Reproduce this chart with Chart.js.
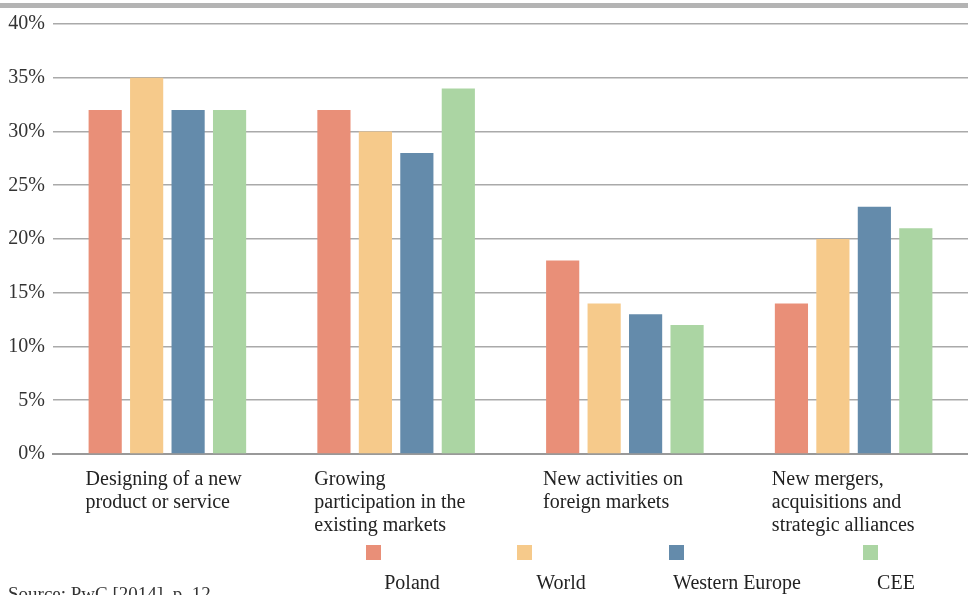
<!DOCTYPE html>
<html lang="en">
<head>
    <meta charset="UTF-8">
    <title>Innovation directions</title>
    <script src="https://cdn.jsdelivr.net/npm/chart.js"></script>
    <style>
        body { margin: 0; background: #fff; font-family: "Liberation Serif", serif; }
        #wrap { position: relative; width: 968px; height: 595px; overflow: hidden; }
        #topline { position: absolute; left: 0; top: 3px; width: 968px; height: 5px; background: #b4b4b4; }
        #source { position: absolute; left: 8px; top: 583px; font-size: 19px; color: #333; white-space: nowrap; }
        .leg-box { position: absolute; width: 15px; height: 15px; top: 545px; }
        .leg-label { position: absolute; top: 571px; font-size: 20px; color: #222; transform: translateX(-50%); white-space: nowrap; }
    </style>
</head>
<body>
<div id="wrap">
    <canvas id="grafico" width="968" height="595"></canvas>
    <div id="topline"></div>
    <div id="source">Source: PwC [2014], p. 12</div>
</div>

<script>
    const categorias = [
        ["Designing of a new", "product or service"],
        ["Growing", "participation in the", "existing markets"],
        ["New activities on", "foreign markets"],
        ["New mergers,", "acquisitions and", "strategic alliances"]
    ];
    const poland = [32, 32, 18, 14];
    const world = [35, 30, 14, 20];
    const westernEurope = [32, 28, 13, 23];
    const cee = [32, 34, 12, 21];

    const series = [
        { label: "Poland", data: poland, color: "#e98f78" },
        { label: "World", data: world, color: "#f6ca8b" },
        { label: "Western Europe", data: westernEurope, color: "#648bab" },
        { label: "CEE", data: cee, color: "#abd5a3" }
    ];

    // legend positions: box left x, label center x
    const leyenda = [[366, 412], [517, 561], [669, 737], [863, 896]];

    // category labels drawn left-aligned at the first bar of each group
    const etiquetasPlugin = {
        id: "etiquetas",
        afterDraw(chart) {
            const ctx = chart.ctx;
            const meta = chart.getDatasetMeta(0);
            ctx.save();
            ctx.font = '20px "Liberation Serif", serif';
            ctx.fillStyle = "#222";
            ctx.textAlign = "left";
            ctx.textBaseline = "alphabetic";
            meta.data.forEach((bar, i) => {
                const left = bar.x - bar.width / 2 - 3;
                categorias[i].forEach((line, j) => {
                    ctx.fillText(line, left, chart.chartArea.bottom + 31 + j * 23);
                });
            });
            ctx.restore();
        }
    };

    new Chart(document.getElementById("grafico"), {
        type: "bar",
        data: {
            labels: categorias,
            datasets: series.map(s => ({
                label: s.label,
                data: s.data,
                backgroundColor: s.color,
                borderWidth: 0,
                categoryPercentage: 0.725,
                barPercentage: 0.8
            }))
        },
        options: {
            responsive: false,
            animation: false,
            layout: { padding: { top: 24, bottom: 141, right: 0, left: 0 } },
            plugins: { legend: { display: false }, tooltip: { enabled: false } },
            scales: {
                x: {
                    ticks: { display: false },
                    grid: { display: false, drawTicks: false },
                    border: { display: true, color: "#999", width: 2 }
                },
                y: {
                    min: 0,
                    max: 40,
                    ticks: {
                        stepSize: 5,
                        padding: 8,
                        color: "#333",
                        font: { family: "Liberation Serif", size: 20 },
                        callback: v => v + "%"
                    },
                    grid: { color: "#aaa", lineWidth: 1.6, drawTicks: false },
                    border: { display: false },
                    afterFit(axis) { axis.width = 53; }
                }
            }
        },
        plugins: [etiquetasPlugin]
    });

    const wrap = document.getElementById("wrap");
    series.forEach((s, i) => {
        const box = document.createElement("div");
        box.className = "leg-box";
        box.style.left = leyenda[i][0] + "px";
        box.style.background = s.color;
        wrap.appendChild(box);
        const lab = document.createElement("div");
        lab.className = "leg-label";
        lab.style.left = leyenda[i][1] + "px";
        lab.textContent = s.label;
        wrap.appendChild(lab);
    });
</script>
</body>
</html>
